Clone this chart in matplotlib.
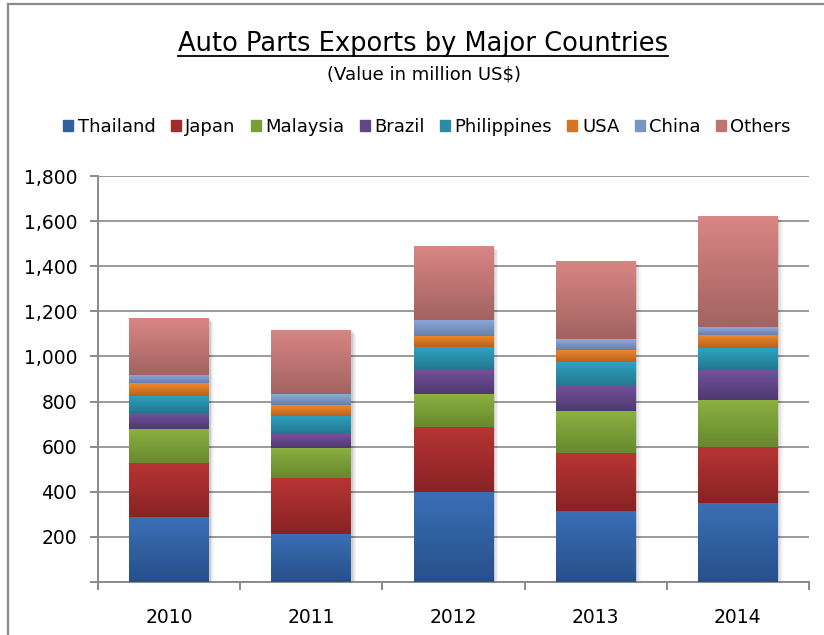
import matplotlib
matplotlib.use("Agg")
import matplotlib.pyplot as plt
import numpy as np
from matplotlib.colors import to_rgb
from matplotlib.lines import Line2D
from matplotlib.patches import Rectangle

years = ["2010", "2011", "2012", "2013", "2014"]
countries = ["Thailand", "Japan", "Malaysia", "Brazil", "Philippines", "USA", "China", "Others"]
thailand = [288, 213, 400, 315, 350]
japan = [240, 248, 287, 257, 248]
malaysia = [150, 135, 146, 186, 209]
brazil = [70, 60, 108, 111, 133]
philippines = [77, 81, 101, 106, 97]
usa = [57, 48, 49, 54, 58]
china = [36, 48, 71, 48, 35]
others = [252, 284, 328, 346, 493]
series = [thailand, japan, malaysia, brazil, philippines, usa, china, others]

top_colors = ["#3A6FB6", "#B73534", "#8CB041", "#72529B", "#2FA2C2", "#F08A2B", "#8DAADA", "#D98684"]
bot_colors = ["#27508A", "#892323", "#668A2D", "#4E3970", "#22778E", "#BA611D", "#6680AA", "#A26361"]
mid_colors = ["#3160A0", "#A02C2C", "#7A9D37", "#614686", "#298DA8", "#D57524", "#7995C2", "#BD7572"]

fig = plt.figure(figsize=(8.24, 6.35), dpi=100)
ax = fig.add_axes([98/824, 1-582/635, (809-98)/824, (582-176)/635])

x = np.arange(len(years))
width = 0.56
bottom = np.zeros(len(years))
containers = []
for vals, name, mc in zip(series, countries, mid_colors):
    c = ax.bar(x, vals, width, bottom=bottom, color=mc, label=name, zorder=3, linewidth=0)
    containers.append(c)
    bottom = bottom + np.array(vals)

# soft shadow behind stacks
totals = bottom
for k, a in enumerate([0.10, 0.07, 0.04]):
    off = 0.012 * (k + 1)
    ax.bar(x + off, totals, width, bottom=-6 * (k + 1), color="black", alpha=a, zorder=2, linewidth=0)

# gradients
for c, tc, bc in zip(containers, top_colors, bot_colors):
    t = np.array(to_rgb(tc)); b = np.array(to_rgb(bc))
    grad = np.linspace(0, 1, 64)[:, None, None]
    img = t * (1 - grad) + b * grad
    for p in c.patches:
        x0, y0, w, h = p.get_x(), p.get_y(), p.get_width(), p.get_height()
        im = ax.imshow(img, extent=[x0, x0 + w, y0, y0 + h], aspect="auto", zorder=4,
                       interpolation="bilinear", origin="upper")
        im.set_clip_path(p)

ax.set_xlim(-0.5, len(years) - 0.5)
ax.set_ylim(0, 1800)
ax.set_yticks(np.arange(0, 1801, 200))
ax.set_yticklabels(["" if v == 0 else f"{v:,}" for v in range(0, 1801, 200)])
ax.yaxis.grid(True, color="#9A9A9A", linewidth=1.4, zorder=0)
ax.set_axisbelow(True)
ax.set_xticks(x)
ax.set_xticklabels(years)
ax.set_xticks(np.arange(-0.5, len(years), 1), minor=True)
ax.tick_params(axis="x", which="major", length=0, pad=19, labelsize=13.5)
ax.tick_params(axis="x", which="minor", length=6, width=1.4, color="#8A8A8A")
ax.tick_params(axis="y", length=6, width=1.4, color="#8A8A8A", pad=9, labelsize=13.5)
for s in ["top", "right"]:
    ax.spines[s].set_visible(False)
for s in ["left", "bottom"]:
    ax.spines[s].set_color("#8A8A8A")
    ax.spines[s].set_linewidth(1.4)

# title
title = fig.text(423/824, 1-44/635, "Auto Parts Exports by Major Countries", ha="center", va="center", fontsize=18.5)
fig.text(424/824, 1-75/635, "(Value in million US$)", ha="center", va="center", fontsize=13)

handles = [Rectangle((0, 0), 1, 1, color=c) for c in mid_colors]
fig.legend(handles, countries, loc="center", bbox_to_anchor=(427/824, 1-127/635), ncol=8, frameon=False,
           fontsize=13, handlelength=0.55, handleheight=0.55, handletextpad=0.25, columnspacing=0.85)

# outer frame
fig.add_artist(Line2D([8/824, 8/824], [0, 1-4/635], transform=fig.transFigure, color="#8A8A8A", lw=1.6))
fig.add_artist(Line2D([8/824, 1], [1-4/635, 1-4/635], transform=fig.transFigure, color="#8A8A8A", lw=1.6))

# underline title
fig.canvas.draw()
bb = title.get_window_extent(fig.canvas.get_renderer())
inv = fig.transFigure.inverted()
(x0f, y0f), (x1f, y1f) = inv.transform([(bb.x0, bb.y0), (bb.x1, bb.y1)])
fig.add_artist(Line2D([x0f, x1f], [y0f + 0.001, y0f + 0.001], transform=fig.transFigure, color="black", lw=1.3))

fig.savefig("out.png", dpi=100)
